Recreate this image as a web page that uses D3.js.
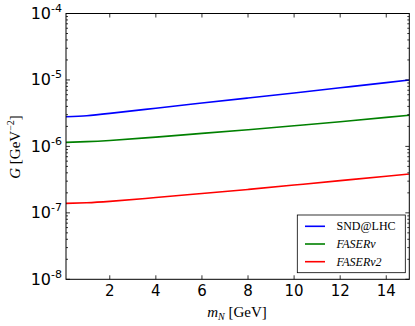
<!DOCTYPE html>
<html>
<head>
<meta charset="utf-8">
<script src="https://cdn.jsdelivr.net/npm/d3@7"></script>
<style>
  body { margin: 0; background: #fff; }
  svg { display: block; }
</style>
</head>
<body>
<svg id="chart" width="415" height="326"></svg>
<script>
// ================= DATA ===================
const massPoints = [0.1, 1, 2, 4, 6, 8, 10, 12, 14, 15];
const sndLhc   = [2.80e-6, 2.90e-6, 3.14e-6, 3.76e-6, 4.49e-6, 5.35e-6, 6.36e-6, 7.62e-6, 9.12e-6, 1.0e-5];
const faserNu  = [1.15e-6, 1.18e-6, 1.23e-6, 1.38e-6, 1.57e-6, 1.78e-6, 2.04e-6, 2.35e-6, 2.73e-6, 2.94e-6];
const faserNu2 = [1.39e-7, 1.42e-7, 1.49e-7, 1.70e-7, 1.96e-7, 2.25e-7, 2.62e-7, 3.05e-7, 3.56e-7, 3.84e-7];

const xTicks = [2, 4, 6, 8, 10, 12, 14];
const yTicks = [-8, -7, -6, -5, -4]; // exponents

const series = [
  { name: "SND@LHC", values: sndLhc, color: "#0000ff", italic: false },
  { name: "FASER\u03bd", values: faserNu, color: "#008000", italic: true },
  { name: "FASER\u03bd2", values: faserNu2, color: "#ff0000", italic: true },
];

// ================= LAYOUT ===================
const plot = { left: 66, right: 409.3, top: 13.5, bottom: 279.3 };
const svg = d3.select("#chart");

const x = d3.scaleLinear().domain([0.1, 15]).range([plot.left, plot.right]);
const y = d3.scaleLog().domain([1e-8, 1e-4]).range([plot.bottom, plot.top]);

const mathFont = "'Liberation Serif', 'DejaVu Serif', serif";
const tickFont = "'DejaVu Sans', sans-serif";

// ---------- curves ----------
const line = d3.line()
  .x((d) => x(d[0]))
  .y((d) => y(d[1]))
  .curve(d3.curveNatural);

svg.append("clipPath").attr("id", "clip")
  .append("rect")
  .attr("x", plot.left).attr("y", plot.top)
  .attr("width", plot.right - plot.left)
  .attr("height", plot.bottom - plot.top);

svg.append("g")
  .attr("clip-path", "url(#clip)")
  .selectAll("path")
  .data(series)
  .join("path")
  .attr("d", (s) => line(massPoints.map((m, i) => [m, s.values[i]])))
  .attr("fill", "none")
  .attr("stroke", (s) => s.color)
  .attr("stroke-width", 1.6);

// ---------- ticks (inward, all four sides) ----------
const ticks = svg.append("g").attr("stroke", "#000").attr("stroke-width", 0.8);

xTicks.forEach((t) => {
  const px = x(t);
  ticks.append("line").attr("x1", px).attr("x2", px).attr("y1", plot.bottom).attr("y2", plot.bottom - 4);
  ticks.append("line").attr("x1", px).attr("x2", px).attr("y1", plot.top).attr("y2", plot.top + 4);
});

yTicks.forEach((e) => {
  const py = y(Math.pow(10, e));
  ticks.append("line").attr("x1", plot.left).attr("x2", plot.left + 4).attr("y1", py).attr("y2", py);
  ticks.append("line").attr("x1", plot.right).attr("x2", plot.right - 4).attr("y1", py).attr("y2", py);
  if (e < -4) {
    for (let k = 2; k <= 9; k++) {
      const pm = y(k * Math.pow(10, e));
      ticks.append("line").attr("x1", plot.left).attr("x2", plot.left + 2).attr("y1", pm).attr("y2", pm);
      ticks.append("line").attr("x1", plot.right).attr("x2", plot.right - 2).attr("y1", pm).attr("y2", pm);
    }
  }
});

// ---------- frame ----------
svg.append("rect")
  .attr("x", plot.left).attr("y", plot.top)
  .attr("width", plot.right - plot.left)
  .attr("height", plot.bottom - plot.top)
  .attr("fill", "none")
  .attr("stroke", "#000")
  .attr("stroke-width", 1);

// ---------- tick labels ----------
svg.append("g")
  .selectAll("text")
  .data(xTicks)
  .join("text")
  .attr("x", (d) => x(d))
  .attr("y", plot.bottom + 17)
  .attr("text-anchor", "middle")
  .attr("font-family", tickFont)
  .attr("font-size", 15)
  .text((d) => d);

const yLab = svg.append("g")
  .selectAll("text")
  .data(yTicks)
  .join("text")
  .attr("x", 62)
  .attr("y", (e) => y(Math.pow(10, e)) + 5.5)
  .attr("text-anchor", "end")
  .attr("font-family", tickFont)
  .attr("font-size", 16);
yLab.append("tspan").text("10");
yLab.append("tspan")
  .attr("font-size", 11)
  .attr("dy", -7)
  .text((e) => e);

// ---------- axis titles ----------
const xTitle = svg.append("text")
  .attr("x", 237)
  .attr("y", 317)
  .attr("text-anchor", "middle")
  .attr("font-family", mathFont)
  .attr("font-size", 15);
xTitle.append("tspan").attr("font-style", "italic").text("m");
xTitle.append("tspan").attr("font-style", "italic").attr("font-size", 10).attr("dy", 3).text("N");
xTitle.append("tspan").attr("dy", -3).text(" [GeV]");

const yTitle = svg.append("text")
  .attr("transform", "translate(20,147) rotate(-90)")
  .attr("text-anchor", "middle")
  .attr("font-family", mathFont)
  .attr("font-size", 15);
yTitle.append("tspan").attr("font-style", "italic").text("G");
yTitle.append("tspan").text(" [GeV");
yTitle.append("tspan").attr("font-size", 10).attr("dy", -6).text("\u22122");
yTitle.append("tspan").attr("dy", 6).text("]");

// ---------- legend ----------
const legendBox = { x: 297.3, y: 215, w: 108, h: 57.7 };
const legend = svg.append("g");
legend.append("rect")
  .attr("x", legendBox.x).attr("y", legendBox.y)
  .attr("width", legendBox.w).attr("height", legendBox.h)
  .attr("fill", "#fff")
  .attr("stroke", "#000")
  .attr("stroke-width", 0.8);

const rowY = (i) => legendBox.y + 11.3 + i * 17.7;
const entry = legend.selectAll("g.entry")
  .data(series)
  .join("g")
  .attr("class", "entry");
entry.append("line")
  .attr("x1", 305).attr("x2", 325)
  .attr("y1", (d, i) => rowY(i)).attr("y2", (d, i) => rowY(i))
  .attr("stroke", (d) => d.color)
  .attr("stroke-width", 1.6);
entry.append("text")
  .attr("x", 336.5)
  .attr("y", (d, i) => rowY(i) + 4)
  .attr("font-family", mathFont)
  .attr("font-size", 12)
  .attr("font-style", (d) => (d.italic ? "italic" : "normal"))
  .text((d) => d.name);
</script>
</body>
</html>
